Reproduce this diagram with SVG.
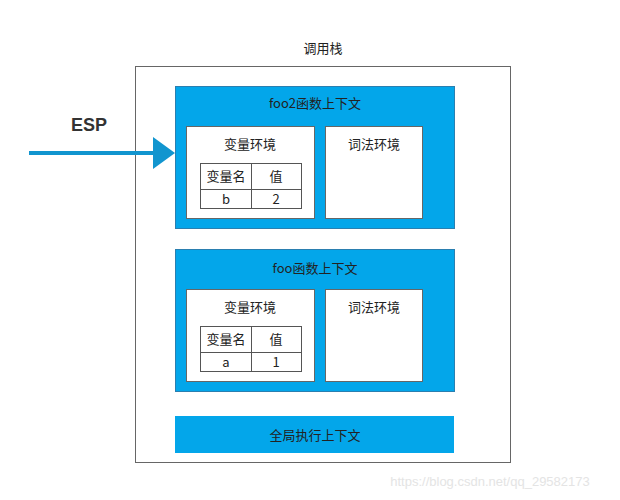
<svg xmlns="http://www.w3.org/2000/svg" width="620" height="500" viewBox="0 0 620 500">
<style>
text{font-family:"Noto Sans CJK SC","Liberation Sans",sans-serif;font-size:13px;fill:#222;text-anchor:middle}
.frame{fill:#03a6ea;stroke:#2a7fb0;stroke-width:1}
.w{fill:#fff;stroke:#666;stroke-width:1}
.t{fill:#fff;stroke:#555;stroke-width:1}
</style>
<rect width="620" height="500" fill="#fff"/>
<g id="stack"><rect x="135.5" y="66.5" width="375" height="396" fill="#fff" stroke="#666"/><text x="323" y="53">调用栈</text></g>
<g id="foo2">
<rect class="frame" x="175.5" y="86.5" width="279" height="142"/>
<text x="315" y="108">foo2函数上下文</text>
<rect class="w" x="186.5" y="126.5" width="128" height="92"/>
<text x="250" y="149">变量环境</text>
<rect class="t" x="200.5" y="163.5" width="101" height="45"/>
<line x1="200.5" y1="189.5" x2="301.5" y2="189.5" stroke="#555"/>
<line x1="251.5" y1="163.5" x2="251.5" y2="208.5" stroke="#555"/>
<text x="226" y="181">变量名</text><text x="276" y="181">值</text>
<text x="226" y="204">b</text><text x="276" y="204">2</text>
<rect class="w" x="325.5" y="126.5" width="97" height="92"/>
<text x="374" y="149">词法环境</text>
</g>
<g id="foo">
<rect class="frame" x="175.5" y="249.5" width="279" height="142"/>
<text x="315" y="273">foo函数上下文</text>
<rect class="w" x="186.5" y="289.5" width="128" height="92"/>
<text x="250" y="312">变量环境</text>
<rect class="t" x="200.5" y="326.5" width="101" height="45"/>
<line x1="200.5" y1="352.5" x2="301.5" y2="352.5" stroke="#555"/>
<line x1="251.5" y1="326.5" x2="251.5" y2="371.5" stroke="#555"/>
<text x="226" y="344">变量名</text><text x="276" y="344">值</text>
<text x="226" y="367">a</text><text x="276" y="367">1</text>
<rect class="w" x="325.5" y="289.5" width="97" height="92"/>
<text x="374" y="312">词法环境</text>
</g>
<g id="global"><rect x="175" y="416" width="279" height="37" fill="#03a6ea"/><text x="315" y="440">全局执行上下文</text></g>
<g id="connectors">
<line x1="29" y1="153" x2="156" y2="153" stroke="#1195cf" stroke-width="4"/>
<polygon points="153,137 175,153 153,169" fill="#1195cf"/>
</g>
<g id="esp"><text x="89" y="131" style="font-family:'Liberation Sans',sans-serif;font-weight:bold;font-size:18px;fill:#333">ESP</text></g>
<text x="490" y="486" style="font-family:'Liberation Sans',sans-serif;font-size:13px;fill:#e4e4e4">https://blog.csdn.net/qq_29582173</text>
</svg>
